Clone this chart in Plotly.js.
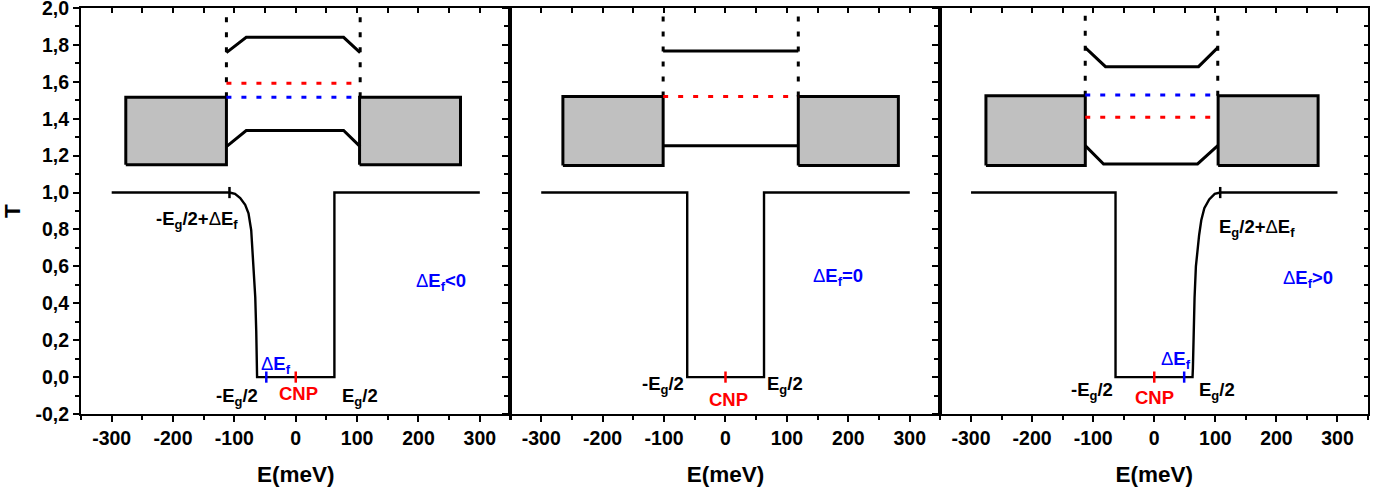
<!DOCTYPE html>
<html><head><meta charset="utf-8">
<script src="https://cdn.plot.ly/plotly-3.0.1.min.js"></script>
<style>html,body{margin:0;padding:0;background:#fff}</style>
</head><body>
<div id="chart" style="width:1383px;height:488px"></div>
<script>
// ---------------- data ----------------
const E_TICKS = [-300, -200, -100, 0, 100, 200, 300];
const E_TICK_TEXT = ['-300', '-200', '-100', '0', '100', '200', '300'];
const T_TICKS = [-0.2, 0, 0.2, 0.4, 0.6, 0.8, 1.0, 1.2, 1.4, 1.6, 1.8, 2.0];
const T_TICK_TEXT = ['-0,2', '0,0', '0,2', '0,4', '0,6', '0,8', '1,0', '1,2', '1,4', '1,6', '1,8', '2,0'];
const PANEL_LABELS = ['ΔE<sub>f</sub>&lt;0', 'ΔE<sub>f</sub>=0', 'ΔE<sub>f</sub>&gt;0'];

// Panel 1 : ΔEf < 0
const p1TransE = [-300, -108, -99, -90.5, -82.4, -77, -72.6, -68.8, -66, -64.4, -63.3, -63, 63, 63, 300];
const p1TransT = [1, 1, 0.993, 0.97, 0.933, 0.888, 0.797, 0.616, 0.434, 0.25, 0.05, 0, 0, 1, 1];
const p1BarrierLE = [-277, -113], p1BarrierRE = [104, 268.5], p1BarrierT = [1.15, 1.517];
const p1BandE = [-113, -80.7, 78, 105];
const p1UpperT = [1.758, 1.841, 1.841, 1.758];
const p1LowerT = [1.249, 1.336, 1.336, 1.249];
const p1GateE = [-113, 105], p1GateT = [1.517, 1.962];
const p1RedT = 1.592, p1BlueT = 1.517;
const p1CNP = 0, p1DEf = -48, p1EdgeE = -108;

// Panel 2 : ΔEf = 0
const p2TransE = [-300, -62.3, -62.3, 62.7, 62.7, 300];
const p2TransT = [1, 1, 0, 0, 1, 1];
const p2BarrierLE = [-264.7, -101.5], p2BarrierRE = [118.5, 281.4], p2BarrierT = [1.146, 1.52];
const p2BandE = [-101.5, 118.5];
const p2UpperT = [1.767, 1.767];
const p2LowerT = [1.254, 1.254];
const p2GateE = [-101.5, 118.5], p2GateT = [1.52, 1.962];
const p2RedT = 1.52;
const p2CNP = 0;

// Panel 3 : ΔEf > 0
const p3TransE = [-300, -63.4, -63.4, 62.7, 63.3, 64.5, 66, 68.2, 70.8, 73.5, 77, 82, 90, 99, 108, 300];
const p3TransT = [1, 1, 0, 0, 0.05, 0.25, 0.43, 0.6, 0.69, 0.77, 0.85, 0.915, 0.963, 0.993, 1, 1];
const p3BarrierLE = [-275.6, -112.9], p3BarrierRE = [104.6, 268.3], p3BarrierT = [1.146, 1.524];
const p3UpperE = [-113, -79.8, 72.5, 104];
const p3UpperT = [1.785, 1.682, 1.682, 1.785];
const p3LowerE = [-113, -83, 70.9, 104];
const p3LowerT = [1.254, 1.155, 1.155, 1.254];
const p3GateE = [-113, 104], p3GateT = [1.524, 1.962];
const p3BlueT = 1.529, p3RedT = 1.408;
const p3CNP = 0, p3DEf = 49, p3EdgeE = 108;

// ---------------- helpers ----------------
const FONT = 'Liberation Sans, Arial, Helvetica, sans-serif';
const BLACK = '#000000', RED = '#ff0000', BLUE = '#0000ff', GREY = '#c0c0c0';
const DOT = '5px,10px';

function ax(n) { return n === 1 ? '' : String(n); }

function line(xs, ys, n, opts) {
  return Object.assign({
    type: 'scatter', mode: 'lines', x: xs, y: ys,
    xaxis: 'x' + ax(n), yaxis: 'y' + ax(n), hoverinfo: 'skip', showlegend: false,
    line: { color: BLACK, width: 3 }
  }, opts || {});
}
function rect(ex, ty, n) {
  return line([ex[0], ex[1], ex[1], ex[0], ex[0]], [ty[0], ty[0], ty[1], ty[1], ty[0]], n,
    { fill: 'toself', fillcolor: GREY, line: { color: BLACK, width: 3 } });
}
function level(ex, t, color, n) {
  return line(ex, [t, t], n, { line: { color: color, width: 3, dash: DOT } });
}
function gates(ex, ty, n) {
  return line([ex[0], ex[0], null, ex[1], ex[1]], [ty[0], ty[1], null, ty[0], ty[1]], n,
    { line: { color: BLACK, width: 3, dash: DOT } });
}
function mark(e, t, color, n) {
  return {
    type: 'scatter', mode: 'markers', x: [e], y: [t], xaxis: 'x' + ax(n), yaxis: 'y' + ax(n),
    hoverinfo: 'skip', showlegend: false, cliponaxis: false,
    marker: { symbol: 'line-ns', size: 8, line: { color: color, width: 2.5 } }
  };
}
const CURVE = { line: { color: BLACK, width: 2.4 } };

const traces = [
  // panel 1
  rect(p1BarrierLE, p1BarrierT, 1), rect(p1BarrierRE, p1BarrierT, 1),
  line(p1BandE, p1UpperT, 1), line(p1BandE, p1LowerT, 1),
  gates(p1GateE, p1GateT, 1),
  level(p1GateE, p1RedT, RED, 1), level(p1GateE, p1BlueT, BLUE, 1),
  line(p1TransE, p1TransT, 1, CURVE),
  mark(p1EdgeE, 1, BLACK, 1), mark(p1CNP, 0, RED, 1), mark(p1DEf, 0, BLUE, 1),
  // panel 2
  rect(p2BarrierLE, p2BarrierT, 2), rect(p2BarrierRE, p2BarrierT, 2),
  line(p2BandE, p2UpperT, 2), line(p2BandE, p2LowerT, 2),
  gates(p2GateE, p2GateT, 2),
  level(p2GateE, p2RedT, RED, 2),
  line(p2TransE, p2TransT, 2, CURVE),
  mark(p2CNP, 0, RED, 2),
  // panel 3
  rect(p3BarrierLE, p3BarrierT, 3), rect(p3BarrierRE, p3BarrierT, 3),
  line(p3UpperE, p3UpperT, 3), line(p3LowerE, p3LowerT, 3),
  gates(p3GateE, p3GateT, 3),
  level(p3GateE, p3BlueT, BLUE, 3), level(p3GateE, p3RedT, RED, 3),
  line(p3TransE, p3TransT, 3, CURVE),
  mark(p3EdgeE, 1, BLACK, 3), mark(p3CNP, 0, RED, 3), mark(p3DEf, 0, BLUE, 3),
];
// empty traces so the top / right tick-only axes exist
for (let i = 1; i <= 3; i++) {
  traces.push({ type: 'scatter', x: [], y: [], xaxis: 'x' + (i + 3), yaxis: 'y' + ax(i), showlegend: false, hoverinfo: 'skip' });
  traces.push({ type: 'scatter', x: [], y: [], xaxis: 'x' + ax(i), yaxis: 'y' + (i + 3), showlegend: false, hoverinfo: 'skip' });
}

// ---------------- layout ----------------
const DOMAINS = [[0, 0.33372], [0.33372, 0.66783], [0.66783, 1]];
const E_RANGE = [-350, 350], T_RANGE = [-0.2, 2.0];
const E_MINOR = [-350, -250, -150, -50, 50, 150, 250, 350];
const E_ALL = [-350, -300, -250, -200, -150, -100, -50, 0, 50, 100, 150, 200, 250, 300, 350];
const T_MINOR = [-0.1, 0.1, 0.3, 0.5, 0.7, 0.9, 1.1, 1.3, 1.5, 1.7, 1.9];
const T_ALL = [-0.2, -0.1, 0, 0.1, 0.2, 0.3, 0.4, 0.5, 0.6, 0.7, 0.8, 0.9, 1.0, 1.1, 1.2, 1.3, 1.4, 1.5, 1.6, 1.7, 1.8, 1.9, 2.0];
const tickFont = { family: FONT, size: 19.5, weight: 'bold', color: BLACK };
const titleFont = { family: FONT, size: 22.5, weight: 'bold', color: BLACK };

const layout = {
  width: 1383, height: 488,
  margin: { l: 81, r: 15, t: 8, b: 74 },
  paper_bgcolor: '#ffffff', plot_bgcolor: '#ffffff',
  showlegend: false,
  font: { family: FONT, color: BLACK },
  annotations: []
};

for (let i = 1; i <= 3; i++) {
  const d = DOMAINS[i - 1];
  layout['xaxis' + ax(i)] = {
    domain: d, anchor: 'y' + ax(i), range: E_RANGE, fixedrange: true,
    showline: true, linewidth: 2, linecolor: BLACK, mirror: true,
    showgrid: false, zeroline: false,
    tickmode: 'array', tickvals: E_TICKS, ticktext: E_TICK_TEXT,
    ticks: 'outside', ticklen: 6, tickwidth: 2, tickcolor: BLACK, tickfont: tickFont,
    ticklabeloverflow: 'allow',
    minor: { tickmode: 'array', tickvals: E_MINOR, ticks: 'outside', ticklen: 4, tickwidth: 2, tickcolor: BLACK, showgrid: false },
    title: { text: 'E(meV)', font: titleFont, standoff: 18 }
  };
  layout['yaxis' + ax(i)] = {
    domain: [0, 1], anchor: 'x' + ax(i), range: T_RANGE, fixedrange: true,
    showline: true, linewidth: 2, linecolor: BLACK, mirror: true,
    showgrid: false, zeroline: false,
    tickmode: 'array', tickvals: T_TICKS, ticktext: T_TICK_TEXT,
    showticklabels: i === 1, ticklabeloverflow: 'allow',
    ticks: 'outside', ticklen: 6, tickwidth: 2, tickcolor: BLACK, tickfont: tickFont,
    minor: { tickmode: 'array', tickvals: T_MINOR, ticks: 'outside', ticklen: 4, tickwidth: 2, tickcolor: BLACK, showgrid: false },
    title: i === 1 ? { text: 'T', font: titleFont, standoff: 20 } : { text: '' }
  };
  // top ticks pointing inward
  layout['xaxis' + (i + 3)] = {
    domain: d, overlaying: 'x' + ax(i), anchor: 'y' + ax(i), side: 'top', range: E_RANGE, fixedrange: true,
    showline: false, showgrid: false, zeroline: false, showticklabels: false,
    tickmode: 'array', tickvals: E_ALL, ticks: 'inside', ticklen: 5, tickwidth: 2, tickcolor: BLACK
  };
  // right ticks pointing inward
  layout['yaxis' + (i + 3)] = {
    domain: [0, 1], overlaying: 'y' + ax(i), anchor: 'x' + ax(i), side: 'right', range: T_RANGE, fixedrange: true,
    showline: false, showgrid: false, zeroline: false, showticklabels: false,
    tickmode: 'array', tickvals: T_ALL, ticks: 'inside', ticklen: 4, tickwidth: 2, tickcolor: BLACK
  };
}

function note(n, x, y, text, color) {
  layout.annotations.push({
    xref: 'x' + ax(n), yref: 'y' + ax(n), x: x, y: y, text: text, showarrow: false,
    xanchor: 'center', yanchor: 'middle',
    font: { family: FONT, size: 18.5, color: color || BLACK, weight: 'normal' }
  });
}
const B = s => '<b>' + s + '</b>';
// panel 1
note(1, -161.5, 0.85, B('-E<sub>g</sub>/2+') + 'Δ' + B('E<sub>f</sub>'));
note(1, -95.4, -0.11, B('-E<sub>g</sub>/2'));
note(1, 5, -0.087, B('CNP'), RED);
note(1, 104.5, -0.11, B('E<sub>g</sub>/2'));
note(1, -31.8, 0.065, 'Δ' + B('E<sub>f</sub>'), BLUE);
note(1, 237.5, 0.515, 'Δ' + B(PANEL_LABELS[0].slice(1)), BLUE);
// panel 2
note(2, -101.8, -0.045, B('-E<sub>g</sub>/2'));
note(2, 96.5, -0.045, B('E<sub>g</sub>/2'));
note(2, 5, -0.122, B('CNP'), RED);
note(2, 183, 0.543, 'Δ' + B(PANEL_LABELS[1].slice(1)), BLUE);
// panel 3
note(3, 168.3, 0.81, B('E<sub>g</sub>/2+') + 'Δ' + B('E<sub>f</sub>'));
note(3, -102.6, -0.075, B('-E<sub>g</sub>/2'));
note(3, 103, -0.075, B('E<sub>g</sub>/2'));
note(3, 1, -0.112, B('CNP'), RED);
note(3, 36, 0.092, 'Δ' + B('E<sub>f</sub>'), BLUE);
note(3, 251.5, 0.532, 'Δ' + B(PANEL_LABELS[2].slice(1)), BLUE);

Plotly.newPlot('chart', traces, layout, { staticPlot: true, displayModeBar: false });
</script>
</body></html>
